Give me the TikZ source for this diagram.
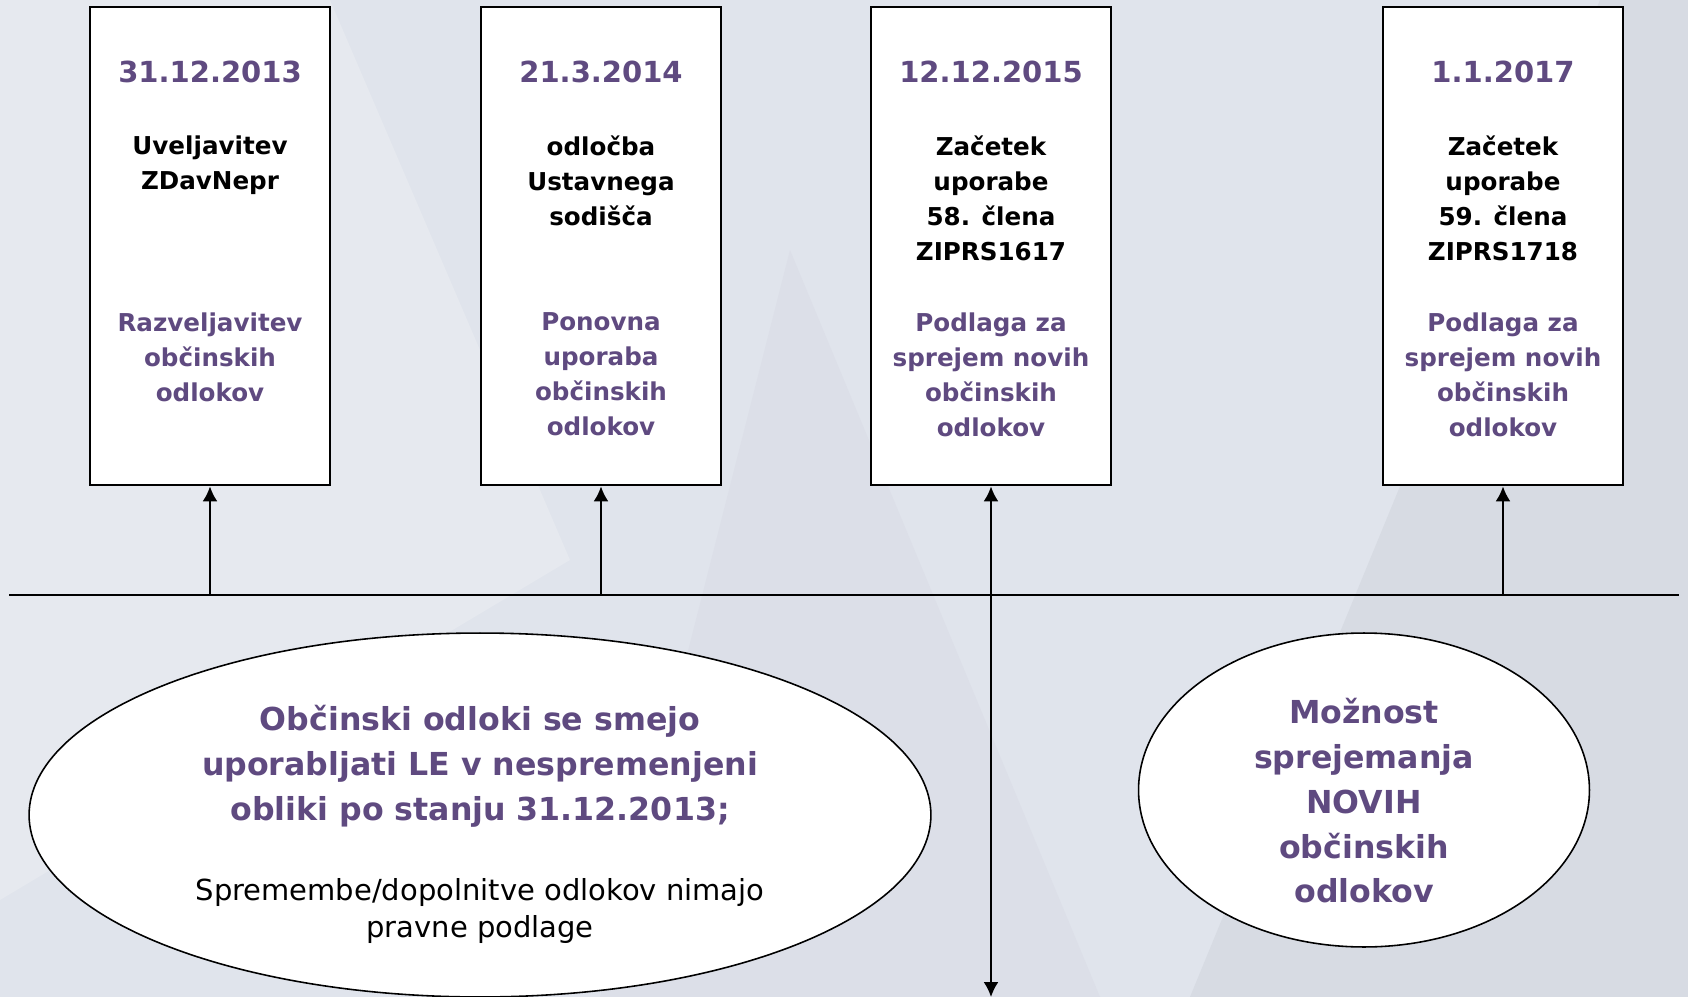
\documentclass[tikz,border=0pt]{standalone}
\usepackage{fontspec}
\setmainfont{DejaVu Sans}
\usetikzlibrary{shapes.geometric, arrows, arrows.meta, positioning}
\definecolor{datepurple}{RGB}{95,74,128}
\definecolor{bgblue}{RGB}{224,228,236}
\definecolor{bgdark}{RGB}{215,219,227}
\definecolor{bglight}{RGB}{230,233,239}
\tikzstyle{datebox} = [
	rectangle, 
	minimum width=4.8cm, 
	minimum height=9.58cm,
	draw=black, 
	line width=1.1pt,
	fill=white]
\tikzstyle{datetxt} = [
	font=\fontsize{16.5}{20}\selectfont\bfseries, 
	text=datepurple, 
	anchor=north, 
	inner sep=0pt]
\tikzstyle{eventtxt} = [
	font=\fontsize{14}{20}\selectfont\bfseries, 
	align=center, 
	anchor=north, 
	inner sep=0pt]
\tikzstyle{effecttxt} = [
	font=\fontsize{14}{20}\selectfont\bfseries, 
	text=datepurple, 
	align=center, 
	anchor=north, 
	inner sep=0pt]
\tikzstyle{bubble} = [
	ellipse, 
	draw=black, 
	line width=0.9pt,
	fill=white]
\tikzstyle{bubbletxt} = [
	font=\fontsize{18}{25.5}\selectfont\bfseries, 
	text=datepurple, 
	align=center, 
	anchor=north, 
	inner sep=0pt]
\tikzstyle{arrow} = [-{Latex[length=8.5pt,width=8.5pt]}, line width=1.1pt]

\begin{document}
\begin{tikzpicture}[x=0.02cm, y=-0.02cm]

% --- Background ---
\fill[bgblue] (0,0) rectangle (1688,997);
\fill[bglight] (0,0) -- (330,0) -- (570,560) -- (0,900) -- cycle;
\fill[bgdark!50!bgblue] (790,250) -- (1100,997) -- (600,997) -- cycle;
\fill[bgdark] (1688,0) -- (1688,997) -- (1190,997) -- (1600,0) -- cycle;
\useasboundingbox (0,0) rectangle (1688,997);

% --- Boxes ---
\node (box1) [datebox] at (210,246) {};
\node (box2) [datebox] at (601,246) {};
\node (box3) [datebox] at (991,246) {};
\node (box4) [datebox] at (1503,246) {};

\node (date1) [datetxt] at (210,61) {31.12.2013};
\node (date2) [datetxt] at (601,61) {21.3.2014};
\node (date3) [datetxt] at (991,61) {12.12.2015};
\node (date4) [datetxt] at (1503,61) {1.1.2017};

\node (event1) [eventtxt] at (210,135) {Uveljavitev\\ZDavNepr};
\node (event2) [eventtxt] at (601,135) {odločba\\Ustavnega\\sodišča};
\node (event3) [eventtxt] at (991,135) {Začetek\\uporabe\\58. člena\\ZIPRS1617};
\node (event4) [eventtxt] at (1503,135) {Začetek\\uporabe\\59. člena\\ZIPRS1718};

\node (effect1) [effecttxt] at (210,312) {Razveljavitev\\občinskih\\odlokov};
\node (effect2) [effecttxt] at (601,312) {Ponovna\\uporaba\\občinskih\\odlokov};
\node (effect3) [effecttxt] at (991,312) {Podlaga za\\sprejem novih\\občinskih\\odlokov};
\node (effect4) [effecttxt] at (1503,312) {Podlaga za\\sprejem novih\\občinskih\\odlokov};

% --- Ellipses ---
\node (oldrules) [bubble, minimum width=18.04cm, minimum height=7.28cm] at (480,815) {};
\node (oldtxt) [bubbletxt] at (480,705) {Občinski odloki se smejo\\uporabljati LE v nespremenjeni\\obliki po stanju 31.12.2013;};
\node (oldnote) [font=\fontsize{16.5}{21}\selectfont, align=center, anchor=north, inner sep=0pt] at (480,878) {Spremembe/dopolnitve odlokov nimajo\\pravne podlage};

\node (newrules) [bubble, minimum width=9.02cm, minimum height=6.28cm] at (1364,790) {};
\node (newtxt) [bubbletxt] at (1364,698) {Možnost\\sprejemanja\\NOVIH\\občinskih\\odlokov};

% --- Timeline ---
\coordinate (tlstart) at (9,595);
\coordinate (tlend) at (1679,595);
\draw [line width=1.1pt] (tlstart) -- (tlend);

\coordinate (tick1) at (210,595);
\coordinate (tick2) at (601,595);
\coordinate (tick4) at (1503,595);
\coordinate (bottom) at (991,997);

% --- Arrows ---
\draw [arrow] (tick1) -- (box1.south);
\draw [arrow] (tick2) -- (box2.south);
\draw [arrow] (tick4) -- (box4.south);
\draw [arrow, {Latex[length=8.5pt,width=8.5pt]}-{Latex[length=8.5pt,width=8.5pt]}] (box3.south) -- (bottom);

\end{tikzpicture}
\end{document}
